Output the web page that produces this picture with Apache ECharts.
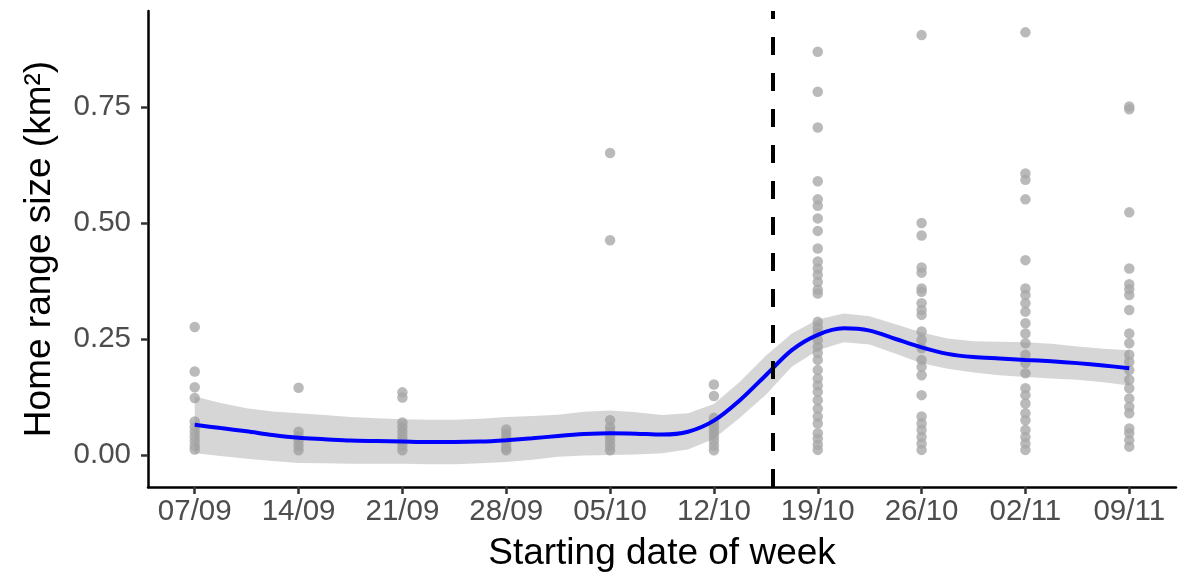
<!DOCTYPE html>
<html>
<head>
<meta charset="utf-8">
<script src="https://cdn.jsdelivr.net/npm/echarts@6/dist/echarts.min.js"></script>
<style>
html,body{margin:0;padding:0;background:#fff;}
#c{width:1180px;height:583px;}
</style>
</head>
<body>
<div id="c"></div>
<script>
// ---- data ----
var weekLabels = ['07/09','14/09','21/09','28/09','05/10','12/10','19/10','26/10','02/11','09/11'];
var yTicks = [0, 0.25, 0.5, 0.75];
var vlineX = 5.571; // 16/10, start of the second period

var wk0 = [0.276, 0.18, 0.146, 0.123, 0.072, 0.06, 0.05, 0.04, 0.03, 0.02, 0.012];
var wk1 = [0.145, 0.05, 0.04, 0.03, 0.02, 0.01];
var wk2 = [0.135, 0.124, 0.07, 0.06, 0.05, 0.04, 0.03, 0.02, 0.01];
var wk3 = [0.055, 0.045, 0.035, 0.025, 0.015, 0.01];
var wk4 = [0.651, 0.463, 0.075, 0.06, 0.05, 0.04, 0.03, 0.02, 0.01];
var wk5 = [0.152, 0.127, 0.08, 0.07, 0.06, 0.05, 0.04, 0.03, 0.02, 0.01];
var wk6 = [0.869, 0.783, 0.706, 0.59, 0.551, 0.537, 0.51, 0.483, 0.445, 0.417, 0.402, 0.388, 0.373, 0.356, 0.348,
           0.287, 0.275, 0.263, 0.248, 0.233, 0.22, 0.205, 0.183, 0.165, 0.15, 0.136, 0.118, 0.10, 0.083, 0.068,
           0.047, 0.035, 0.022, 0.011];
var wk7 = [0.905, 0.50, 0.473, 0.404, 0.393, 0.359, 0.352, 0.327, 0.3125, 0.302, 0.266, 0.248, 0.23, 0.205, 0.19,
           0.172, 0.129, 0.083, 0.068, 0.054, 0.039, 0.025, 0.011];
var wk8 = [0.911, 0.607, 0.593, 0.551, 0.42, 0.359, 0.345, 0.327, 0.309, 0.284, 0.262, 0.241, 0.216, 0.198, 0.176,
           0.144, 0.129, 0.111, 0.09, 0.075, 0.054, 0.039, 0.025, 0.011];
var wk9 = [0.751, 0.745, 0.523, 0.402, 0.368, 0.357, 0.345, 0.3125, 0.262, 0.241, 0.216, 0.201, 0.183, 0.162, 0.144,
           0.122, 0.104, 0.09, 0.057, 0.047, 0.032, 0.018];

// loess smooth and its confidence band
var smoothX = [0,0.25,0.5,0.75,1,1.25,1.5,1.75,2,2.25,2.5,2.75,3,3.25,3.5,3.75,4,4.25,4.5,4.75,5,5.25,5.5,5.75,6,6.25,6.5,6.75,7,7.25,7.5,7.75,8,8.25,8.5,8.75,9];
var smoothY = [0.065,0.058,0.051,0.043,0.037,0.034,0.031,0.030,0.029,0.028,0.028,0.029,0.032,0.036,0.041,0.045,0.047,0.046,0.044,0.050,0.074,0.118,0.172,0.226,0.259,0.273,0.268,0.250,0.232,0.218,0.211,0.208,0.205,0.202,0.198,0.193,0.187];
var bandUpper = [0.126,0.112,0.101,0.094,0.090,0.086,0.082,0.079,0.077,0.076,0.076,0.078,0.082,0.084,0.087,0.093,0.096,0.092,0.086,0.090,0.110,0.158,0.214,0.262,0.292,0.305,0.299,0.282,0.264,0.251,0.245,0.244,0.243,0.240,0.234,0.229,0.226];
var bandLower = [0.004,-0.002,-0.008,-0.013,-0.017,-0.018,-0.019,-0.019,-0.019,-0.020,-0.020,-0.018,-0.015,-0.010,-0.004,-0.001,0.000,0.001,0.004,0.012,0.035,0.080,0.130,0.190,0.226,0.243,0.238,0.218,0.198,0.186,0.178,0.172,0.168,0.165,0.162,0.157,0.150];

// ---- build ----
var weeks = [wk0, wk1, wk2, wk3, wk4, wk5, wk6, wk7, wk8, wk9];
var pts = [];
weeks.forEach(function (arr, i) { arr.forEach(function (v) { pts.push([i, v]); }); });
var lineData = smoothX.map(function (x, i) { return [x, smoothY[i]]; });

var FONT = 'Liberation Sans, Arial, sans-serif';
var chart = echarts.init(document.getElementById('c'), null, {renderer: 'canvas'});
chart.setOption({
  animation: false,
  backgroundColor: '#ffffff',
  grid: {left: 148, right: 4, top: 11, bottom: 96, containLabel: false},
  xAxis: {
    type: 'value', min: -0.45, max: 9.45,
    name: 'Starting date of week', nameLocation: 'middle', nameGap: 48,
    nameTextStyle: {fontFamily: FONT, fontSize: 37, color: '#000'},
    axisLine: {show: true, onZero: false, lineStyle: {color: '#000', width: 2.5}},
    axisTick: {show: true, length: 7, customValues: [0,1,2,3,4,5,6,7,8,9], lineStyle: {color: '#333', width: 2.5}},
    axisLabel: {customValues: [0,1,2,3,4,5,6,7,8,9], margin: 10, fontFamily: FONT, fontSize: 29.5, color: '#4d4d4d',
      formatter: function (v) { return weekLabels[Math.round(v)]; }},
    splitLine: {show: false}
  },
  yAxis: {
    type: 'value', min: -0.069, max: 0.957,
    name: 'Home range size (km²)', nameLocation: 'middle', nameGap: 90,
    nameTextStyle: {fontFamily: FONT, fontSize: 37, color: '#000'},
    axisLine: {show: true, onZero: false, lineStyle: {color: '#000', width: 2.5}},
    axisTick: {show: true, length: 7, customValues: yTicks, lineStyle: {color: '#333', width: 2.5}},
    axisLabel: {customValues: yTicks, margin: 17, fontFamily: FONT, fontSize: 29.5, color: '#4d4d4d',
      formatter: function (v) { return v.toFixed(2); }},
    splitLine: {show: false}
  },
  series: [
    {
      type: 'scatter', data: pts, symbol: 'circle', symbolSize: 10.5,
      itemStyle: {color: '#a9a9a9'}, z: 2, silent: true
    },
    {
      type: 'custom', data: [0], z: 3, silent: true,
      renderItem: function (params, api) {
        var poly = [];
        for (var i = 0; i < smoothX.length; i++) poly.push(api.coord([smoothX[i], bandUpper[i]]));
        for (var j = smoothX.length - 1; j >= 0; j--) poly.push(api.coord([smoothX[j], bandLower[j]]));
        return {type: 'polygon', shape: {points: poly}, style: {fill: 'rgba(153,153,153,0.4)', stroke: null}};
      }
    },
    {
      type: 'line', data: lineData, smooth: 0.3, symbol: 'none', z: 4, silent: true,
      lineStyle: {color: '#0000ff', width: 4},
      markLine: {
        silent: true, symbol: ['none', 'none'], label: {show: false},
        lineStyle: {color: '#000', width: 4, type: [18, 18]},
        data: [{xAxis: vlineX}]
      }
    }
  ]
});
</script>
</body>
</html>
